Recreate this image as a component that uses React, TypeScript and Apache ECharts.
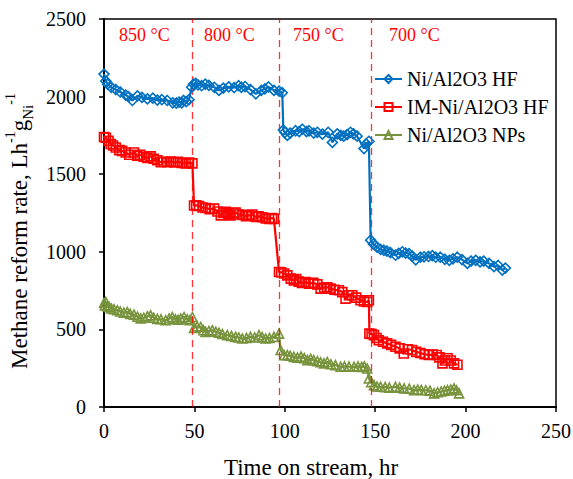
import React, { useEffect, useRef } from "react";
import * as echarts from "echarts";

const xTicks = [0, 50, 100, 150, 200, 250];
const yTicks = [0, 500, 1000, 1500, 2000, 2500];
const seriesNames = ["Ni/Al2O3 HF", "IM-Ni/Al2O3 HF", "Ni/Al2O3 NPs"];
const tempLabels = ["850 °C", "800 °C", "750 °C", "700 °C"];
const switchTimes = [49, 97, 148];

const hfTime = [
  0, 1, 2, 4, 6.5, 9, 12, 13.5, 15.7, 18.5, 21, 24, 27, 29.5, 32, 35, 38, 40, 41.5, 43, 44, 45.5, 47,
  48.5, 49.5, 50.7, 52, 54, 56, 58, 61, 63.6, 66, 69, 72, 74.5, 76, 78, 81, 84, 87, 89, 91, 94, 96.8, 98.6,
  99.2, 100, 101.4, 103, 106, 108, 109.7, 112, 113.4, 116, 118, 120.8, 124, 126.3, 129, 131, 132.6, 134.5, 136.3, 138, 140, 143.8, 145, 146.5,
  147.5, 149, 151, 153, 154.8, 156.5, 158.4, 161.3, 163, 165, 166.8, 168.7, 170.5, 172.4, 175, 177, 179.5, 181.6, 183.5, 186, 188.5, 191, 193, 195.4, 198, 201, 203, 205.6, 208, 210, 213, 215.7, 218, 220.3, 222,
];
const hfValues = [
  2145, 2100, 2080, 2060, 2045, 2030, 2010, 2000, 1975, 2005, 1995, 1985, 1990, 1978, 1980, 1975, 1960, 1958, 1965, 1960, 1975, 1968, 1980,
  2060, 2080, 2085, 2075, 2070, 2080, 2072, 2060, 2040, 2055, 2063, 2058, 2070, 2060, 2065, 2045, 2018, 2040, 2050, 2062, 2040, 2035, 2025,
  1785, 1770, 1750, 1765, 1780, 1775, 1790, 1775, 1780, 1765, 1770, 1758, 1770, 1705, 1760, 1750, 1745, 1755, 1770, 1760, 1745, 1665, 1695, 1712,
  1075, 1050, 1030, 1015, 1010, 1005, 995, 978, 990, 1000, 992, 988, 972, 948, 965, 968, 970, 975, 965, 965, 952, 945, 955, 965, 950, 925, 940, 945, 935, 940, 925, 905, 912, 882, 895,
];

const imTime = [
  0, 1, 2.5, 3.7, 5, 6.5, 8.5, 10, 12, 14, 16.6, 18.4, 20, 22, 24, 25.8, 27.5, 29.5, 31.4, 33, 35, 37, 39, 41, 43, 45.2, 47, 48.9,
  49.8, 51, 52.6, 54.5, 56.3, 58.5, 60.9, 62.8, 64.6, 66, 67.3, 68.8, 70, 71.5, 72.8, 74.5, 76.5, 78.5, 80.2, 82, 84, 85.5, 87.6, 89.5, 91.3, 93, 94,
  96.8, 98, 99.6, 101.4, 103.3, 105, 106.3, 107.7, 109.5, 111.5, 113.4, 115.8, 118, 119.8, 121.8, 123.5, 125.3, 127.5, 129.9, 131.8, 133.6, 135.5, 137.3, 139.5, 141.9, 143.8, 145.6, 146.5,
  146.8, 148, 149.3, 150.8, 152, 154.3, 156.6, 158.8, 161.2, 163.5, 165.8, 168, 170.4, 172.7, 175, 177.3, 179.6, 181.8, 184, 185.5, 187.2, 188.6, 190, 191.8, 193.6, 195.5,
];
const imValues = [
  1740, 1735, 1715, 1695, 1685, 1672, 1655, 1650, 1640, 1625, 1640, 1620, 1625, 1612, 1605, 1615, 1600, 1590, 1577, 1580, 1578, 1582, 1575, 1580, 1572, 1570, 1575, 1570,
  1298, 1300, 1295, 1285, 1282, 1275, 1278, 1260, 1235, 1250, 1258, 1245, 1235, 1250, 1253, 1240, 1238, 1230, 1235, 1240, 1225, 1228, 1223, 1215, 1212, 1218, 1212,
  870, 868, 860, 848, 827, 816, 825, 808, 800, 805, 795, 800, 790, 763, 770, 772, 763, 755, 752, 740, 698, 720, 720, 705, 688, 680, 677, 688,
  473, 470, 463, 445, 430, 420, 410, 400, 388, 378, 345, 372, 367, 355, 348, 340, 335, 338, 335, 320, 281, 300, 314, 300, 281, 272,
];

const npTime = [
  0, 0.5, 1, 2, 2.8, 4, 5.5, 7.4, 9, 11, 12.9, 14.5, 16.6, 18.5, 20.3, 22, 24, 25.8, 27.5, 29.5, 31.5, 34.1, 36, 37.8, 39.5, 41, 42.5, 44.3, 46, 47.5, 48.9,
  49.8, 51.5, 53.5, 55, 56.2, 58, 59.9, 61.8, 63.6, 65.5, 68.2, 70.5, 72.8, 74.5, 76.5, 78.8, 81, 83.3, 85.7, 87.5, 89.4, 91.5, 94, 96.8,
  97.7, 99.6, 101.4, 103, 105, 107, 109, 110.8, 112.5, 114.3, 116, 118, 119.8, 121.7, 123.5, 125.5, 128, 130.9, 133, 135.5, 138.3, 140.5, 142.5, 144, 145.6,
  146.5, 147.8, 149.3, 151, 153, 155.5, 157.8, 161.2, 163.5, 166, 168.8, 171.5, 173.5, 175.5, 178, 180.3, 182.6, 184.5, 186.5, 188.3, 190, 191.8, 193.6, 195, 196.4,
];
const npValues = [
  670, 655, 677, 650, 645, 635, 630, 623, 615, 608, 612, 600, 595, 582, 570, 575, 585, 591, 575, 568, 565, 559, 570, 580, 565, 562, 570, 580, 565, 560, 580,
  510, 520, 516, 495, 484, 490, 495, 485, 478, 470, 463, 458, 452, 448, 441, 445, 452, 448, 463, 450, 441, 445, 452, 473,
  367, 334, 334, 330, 323, 318, 325, 315, 302, 310, 302, 295, 288, 281, 290, 275, 270, 259, 262, 260, 259, 262, 258, 262, 248,
  184, 160, 141, 132, 130, 128, 125, 130, 125, 120, 118, 109, 112, 110, 108, 105, 88, 95, 100, 105, 109, 112, 120, 108, 88,
];

const colors = ["#0070C0", "#FF0000", "#77933C"];
const symbols = ["diamond", "rect", "triangle"];
const symbolSizes = [10, 9, 9];
const FONT = "'Liberation Serif', 'Times New Roman', serif";

function pairs(t: number[], v: number[]) {
  return t.map((x, i) => [x, v[i]]);
}

export default function App() {
  const ref = useRef<HTMLDivElement>(null);
  useEffect(() => {
    document.body.style.margin = "0";
    if (!ref.current) return;
    const chart = echarts.init(ref.current, null, { renderer: "svg" });
    const datasets = [pairs(hfTime, hfValues), pairs(imTime, imValues), pairs(npTime, npValues)];
    const series: any[] = datasets.map((d, i) => ({
      name: seriesNames[i],
      type: "line",
      data: d,
      symbol: symbols[i],
      symbolSize: symbolSizes[i],
      showSymbol: true,
      lineStyle: { color: colors[i], width: 2.2 },
      itemStyle: { color: "rgba(255,255,255,0)", borderColor: colors[i], borderWidth: 1.6 },
      z: 3 - i + 2,
    }));
    series.push({
      name: "switch",
      type: "line",
      data: [],
      markLine: {
        silent: true,
        symbol: "none",
        label: { show: false },
        lineStyle: { color: "#FF0000", type: [7, 5], width: 1.3, opacity: 0.8 },
        data: switchTimes.map((t) => ({ xAxis: t })),
      },
    });
    const tempX = [119, 204, 293, 389];
    chart.setOption({
      animation: false,
      textStyle: { fontFamily: FONT },
      grid: {
        left: 104,
        right: 17,
        top: 19,
        bottom: 72,
        show: true,
        borderColor: "#000",
        borderWidth: 1.5,
        backgroundColor: "transparent",
        containLabel: false,
        outerBoundsMode: "none",
      },
      legend: {
        data: seriesNames,
        orient: "vertical",
        left: 369,
        top: 64,
        itemWidth: 27,
        itemHeight: 10,
        itemGap: 8,
        textStyle: { fontFamily: FONT, fontSize: 20, color: "#000" },
      },
      xAxis: {
        type: "value",
        min: 0,
        max: 250,
        interval: 50,
        name: "Time on stream, hr",
        nameLocation: "middle",
        nameGap: 49,
        nameTextStyle: { fontFamily: FONT, fontSize: 23, color: "#000", padding: [0, 38, 0, 0] },
        axisLine: { lineStyle: { color: "#000", width: 2 } },
        axisTick: { show: true, length: 5, lineStyle: { color: "#000", width: 1.5 } },
        axisLabel: { fontFamily: FONT, fontSize: 20, color: "#000", margin: 14 },
        splitLine: { show: false },
      },
      yAxis: {
        type: "value",
        min: 0,
        max: 2500,
        interval: 500,
        name: "Methane reform rate, Lh{sup|-1}g{sub|Ni}{sup|-1}",
        nameLocation: "middle",
        nameGap: 67,
        nameTextStyle: {
          fontFamily: FONT,
          fontSize: 23,
          color: "#000",
          lineHeight: 32,
          verticalAlign: "middle",
          padding: [0, 36, 0, 0],
          rich: {
            sup: { fontFamily: FONT, fontSize: 14, color: "#000", lineHeight: 14, verticalAlign: "top" },
            sub: { fontFamily: FONT, fontSize: 15, color: "#000", lineHeight: 14, verticalAlign: "bottom" },
          },
        },
        axisLine: { show: true, lineStyle: { color: "#000", width: 2 } },
        axisTick: { show: true, length: 5, lineStyle: { color: "#000", width: 1.5 } },
        axisLabel: {
          fontFamily: FONT,
          fontSize: 20,
          color: "#000",
          margin: 18,
          formatter: (v: number) => String(v),
        },
        splitLine: { show: false },
      },
      graphic: tempLabels.map((s, i) => ({
        type: "text",
        left: tempX[i],
        top: 26,
        style: { text: s, fill: "#FF0000", font: `18px ${FONT}` },
      })),
      series,
    });
    return () => chart.dispose();
  }, []);
  return <div ref={ref} style={{ width: 573, height: 479 }} />;
}
